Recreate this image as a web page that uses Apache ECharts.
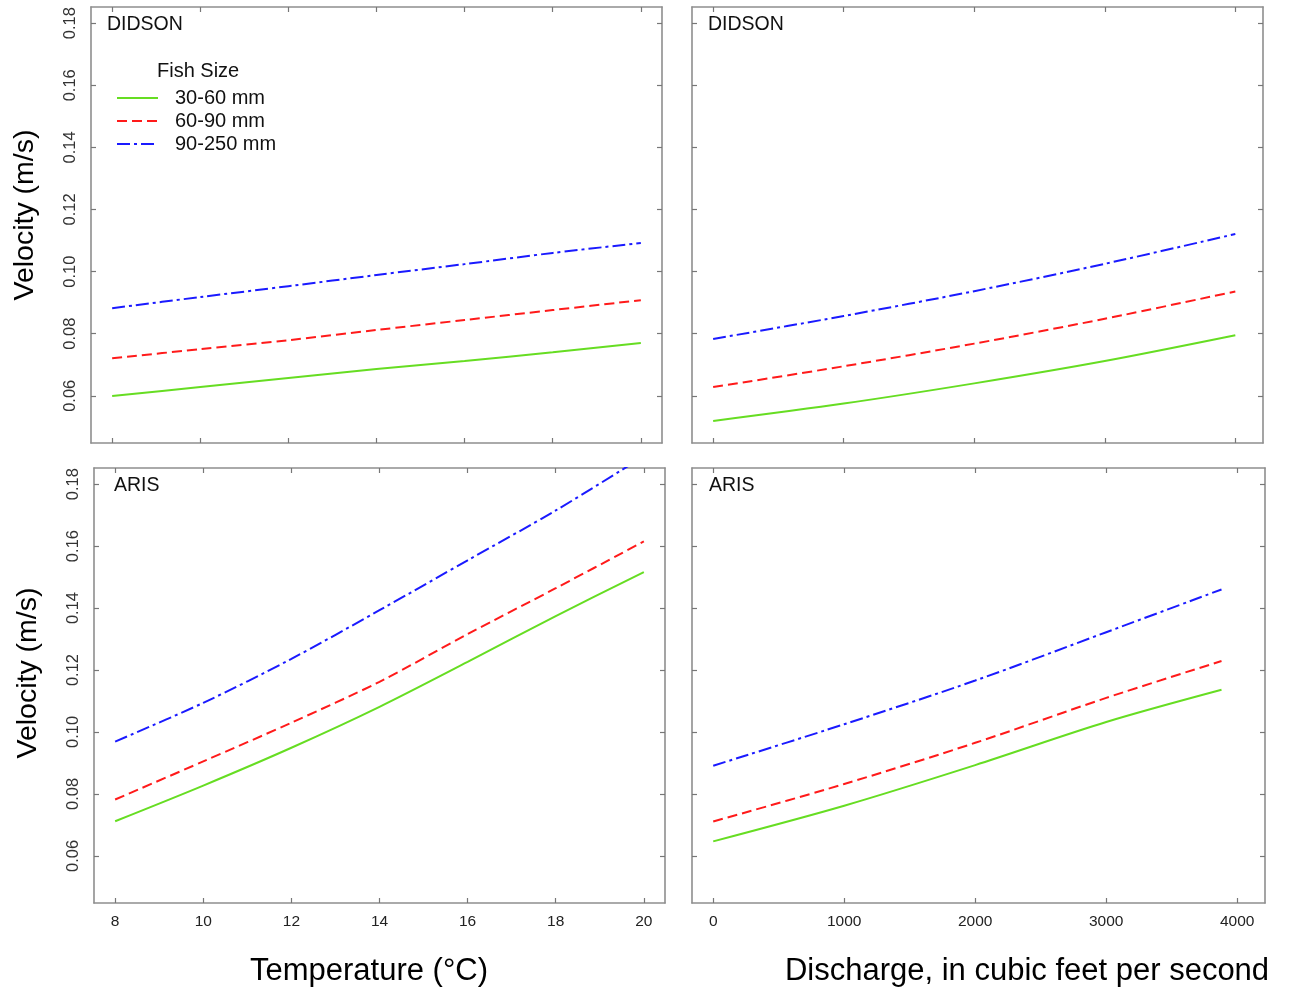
<!DOCTYPE html>
<html><head><meta charset="utf-8">
<script src="https://cdn.jsdelivr.net/npm/echarts@6/dist/echarts.min.js"></script>
<style>html,body{margin:0;padding:0;background:#fff}#c{width:1290px;height:991px}</style>
</head><body><div id="c"></div>
<script>
// ---- data ----
const seriesNames = ['30-60 mm', '60-90 mm', '90-250 mm'];
const tempX = [8, 10, 12, 14, 16, 18, 20];
const didsonDischargeX = [0, 1000, 2000, 3000, 4000];
const arisDischargeX = [0, 1000, 2000, 3000, 3880];

const didsonTemp30 = [0.0599, 0.0628, 0.0657, 0.0686, 0.0712, 0.0740, 0.0770];
const didsonTemp60 = [0.0721, 0.0750, 0.0779, 0.0812, 0.0844, 0.0876, 0.0908];
const didsonTemp90 = [0.0882, 0.0918, 0.0953, 0.0989, 0.1024, 0.1060, 0.1092];

const didsonQ30 = [0.0519, 0.0575, 0.0640, 0.0712, 0.0795];
const didsonQ60 = [0.0628, 0.0695, 0.0768, 0.0848, 0.0936];
const didsonQ90 = [0.0783, 0.0857, 0.0937, 0.1025, 0.1121];

const arisTemp30 = [0.0712, 0.0827, 0.0949, 0.1081, 0.1226, 0.1374, 0.1516];
const arisTemp60 = [0.0782, 0.0905, 0.1030, 0.1162, 0.1316, 0.1464, 0.1615];
const arisTemp90 = [0.0969, 0.1094, 0.1236, 0.1393, 0.1554, 0.1715, 0.1890];

const arisQ30 = [0.0647, 0.0762, 0.0893, 0.1032, 0.1136];
const arisQ60 = [0.0711, 0.0832, 0.0965, 0.1110, 0.1229];
const arisQ90 = [0.0891, 0.1025, 0.1166, 0.1322, 0.1460];

const yTicks = [0.06, 0.08, 0.10, 0.12, 0.14, 0.16, 0.18];
const tempTicks = [8, 10, 12, 14, 16, 18, 20];
const dischargeTicks = [0, 1000, 2000, 3000, 4000];

const panelLabels = ['DIDSON', 'DIDSON', 'ARIS', 'ARIS'];

// ---- styles ----
const FONT = 'Liberation Sans, Arial, sans-serif';
const AXC = '#8e8e8e';
const colors = ['#66dd22', '#ff1a1a', '#1a1aff'];
const dashes = ['solid', [10, 5], [13, 4, 3, 4]];

const grids = [
  {left: 91, top: 7, width: 571, height: 436},
  {left: 692, top: 7, width: 571, height: 436},
  {left: 94, top: 468, width: 571, height: 435},
  {left: 692, top: 468, width: 573, height: 435}
];
const xRanges = [[7.52, 20.48], [-162, 4212], [7.52, 20.48], [-162, 4212]];
const xTicksFor = [tempTicks, dischargeTicks, tempTicks, dischargeTicks];
const yMin = 0.0448, yMax = 0.1852;

const xAxes = [], yAxes = [];
grids.forEach((g, i) => {
  const showX = i >= 2, showY = (i % 2 === 0);
  ['bottom', 'top'].forEach(pos => {
    xAxes.push({
      type: 'value', gridIndex: i, position: pos,
      min: xRanges[i][0], max: xRanges[i][1],
      axisLine: {show: true, onZero: false, lineStyle: {color: AXC, width: 1.6}},
      axisTick: {show: true, inside: true, length: 5, customValues: xTicksFor[i], lineStyle: {color: '#777', width: 1.2}},
      axisLabel: {show: pos === 'bottom' && showX, customValues: xTicksFor[i], margin: 11,
        fontFamily: FONT, fontSize: 15.5, color: '#222', formatter: v => String(v)},
      splitLine: {show: false}
    });
  });
  ['left', 'right'].forEach(pos => {
    yAxes.push({
      type: 'value', gridIndex: i, position: pos,
      min: yMin, max: yMax,
      axisLine: {show: true, onZero: false, lineStyle: {color: AXC, width: 1.6}},
      axisTick: {show: true, inside: true, length: 5, customValues: yTicks, lineStyle: {color: '#777', width: 1.2}},
      axisLabel: {show: pos === 'left' && showY, customValues: yTicks, rotate: 90, margin: 12,
        fontFamily: FONT, fontSize: 16.5, color: '#333',
        formatter: v => v.toFixed(2)},
      splitLine: {show: false}
    });
  });
});

const panelData = [
  [tempX, [didsonTemp30, didsonTemp60, didsonTemp90]],
  [didsonDischargeX, [didsonQ30, didsonQ60, didsonQ90]],
  [tempX, [arisTemp30, arisTemp60, arisTemp90]],
  [arisDischargeX, [arisQ30, arisQ60, arisQ90]]
];
const series = [];
panelData.forEach((pd, i) => {
  pd[1].forEach((ys, k) => {
    series.push({
      name: seriesNames[k], type: 'line', xAxisIndex: i * 2, yAxisIndex: i * 2,
      data: pd[0].map((x, j) => [x, ys[j]]),
      smooth: 0.3, symbol: 'none', showSymbol: false, clip: true,
      color: colors[k],
      lineStyle: {color: colors[k], width: 2, type: dashes[k]},
      emphasis: {disabled: true}, silent: true, animation: false
    });
  });
});

const graphic = [];
panelLabels.forEach((t, i) => {
  const g = grids[i];
  graphic.push({type: 'text', x: g.left + (i === 2 ? 20 : (i === 3 ? 17 : 16)), y: g.top + 18,
    style: {text: t, font: '19.5px ' + FONT, fill: '#111', verticalAlign: 'middle'}});
});
graphic.push({type: 'text', x: 157, y: 71, style: {text: 'Fish Size', font: '20px ' + FONT, fill: '#111', verticalAlign: 'middle'}});
graphic.push({type: 'text', x: 25, y: 215, rotation: Math.PI / 2,
  style: {text: 'Velocity (m/s)', font: '28.5px ' + FONT, fill: '#000', align: 'center', verticalAlign: 'middle'}});
graphic.push({type: 'text', x: 28, y: 673, rotation: Math.PI / 2,
  style: {text: 'Velocity (m/s)', font: '28.5px ' + FONT, fill: '#000', align: 'center', verticalAlign: 'middle'}});
graphic.push({type: 'text', x: 369, y: 971,
  style: {text: 'Temperature (°C)', font: '31px ' + FONT, fill: '#000', align: 'center', verticalAlign: 'middle'}});
graphic.push({type: 'text', x: 1027, y: 971,
  style: {text: 'Discharge, in cubic feet per second', font: '31px ' + FONT, fill: '#000', align: 'center', verticalAlign: 'middle'}});

const chart = echarts.init(document.getElementById('c'), null, {renderer: 'canvas'});
chart.setOption({
  animation: false,
  backgroundColor: '#fff',
  grid: grids,
  xAxis: xAxes,
  yAxis: yAxes,
  series: series,
  legend: {
    data: seriesNames, orient: 'vertical', left: 111, top: 83,
    itemWidth: 41, itemHeight: 14, itemGap: 3, selectedMode: false,
    itemStyle: {opacity: 0},
    textStyle: {fontFamily: FONT, fontSize: 20, color: '#111', padding: [0, 0, 0, 12]}
  },
  graphic: graphic
});
</script></body></html>
